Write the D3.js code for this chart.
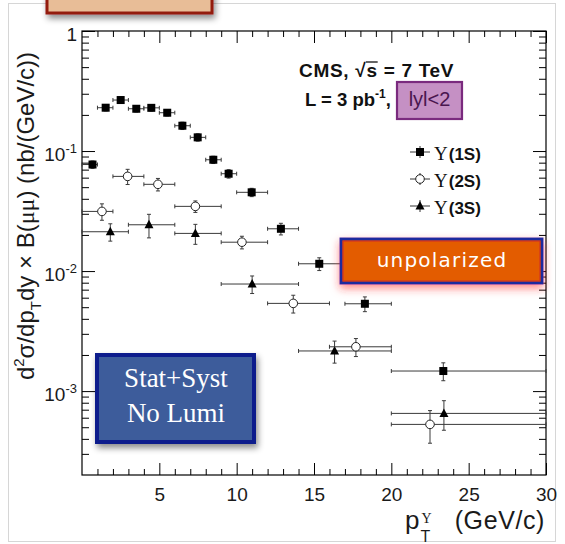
<!DOCTYPE html>
<html><head><meta charset="utf-8">
<script src="https://cdn.jsdelivr.net/npm/d3@7"></script>
<style>body{margin:0;background:#fff} svg{display:block}</style>
</head><body><svg id="c" width="565" height="544"></svg>
<script>
// ---------- data ----------
const xMajorTicks = [5, 10, 15, 20, 25, 30];
const yMajorTicks = [1, 0.1, 0.01, 0.001];
const yTickLabels = ["1", "10|-1", "10|-2", "10|-3"];

const s1Center = [0.68, 1.53, 2.5, 3.51, 4.48, 5.51, 6.49, 7.48, 8.49, 9.48, 10.97, 12.86, 15.34, 18.29, 23.36];
const s1Lo     = [0, 1, 2, 3, 4, 5, 6, 7, 8, 9, 10, 12, 14, 17, 20];
const s1Hi     = [1, 2, 3, 4, 5, 6, 7, 8, 9, 10, 12, 14, 17, 20, 30];
const s1Val    = [0.0772, 0.2296, 0.266, 0.225, 0.229, 0.2085, 0.1625, 0.130, 0.0846, 0.0647, 0.0453, 0.0225, 0.0115, 0.00534, 0.00147];
const s1Err    = [0.0054, 0.0138, 0.016, 0.0135, 0.0137, 0.0125, 0.0114, 0.0091, 0.0059, 0.0052, 0.0036, 0.0025, 0.0014, 0.00075, 0.00025];

const s2Center = [1.29, 2.95, 4.91, 7.33, 10.34, 13.66, 17.71, 22.5];
const s2Lo     = [0, 2, 4, 6, 9, 12, 16, 20];
const s2Hi     = [2, 4, 6, 9, 12, 16, 20, 30];
const s2Val    = [0.0314, 0.0615, 0.0528, 0.0346, 0.0174, 0.00538, 0.00234, 0.000528];
const s2Err    = [0.0049, 0.0089, 0.0063, 0.0038, 0.0021, 0.00091, 0.0004, 0.00016];

const s3Center = [1.83, 4.33, 7.33, 11.0, 16.33, 23.4];
const s3Lo     = [0, 3, 6, 9, 14, 20];
const s3Hi     = [3, 6, 9, 14, 20, 30];
const s3Val    = [0.02126, 0.0243, 0.0206, 0.0078, 0.00216, 0.000652];
const s3Err    = [0.0035, 0.0054, 0.0039, 0.0013, 0.00045, 0.00018];

const legendLabels = ["(1S)", "(2S)", "(3S)"];

// ---------- setup ----------
const svg = d3.select("#c");
const M = {l: 82, r: 546, t: 31, b: 475};
const x = d3.scaleLinear().domain([0, 30]).range([M.l, M.r]);
const y = d3.scaleLog().domain([2e-4, 1]).range([M.b, M.t]);
const SANS = "'Liberation Sans', Arial, Helvetica, sans-serif";
const SERIF = "'Liberation Serif', 'Times New Roman', serif";

const defs = svg.append("defs");
const f1 = defs.append("filter").attr("id", "shadowGray").attr("x", "-20%").attr("y", "-20%").attr("width", "150%").attr("height", "160%");
f1.append("feDropShadow").attr("dx", 2).attr("dy", 4).attr("stdDeviation", 3).attr("flood-color", "#000").attr("flood-opacity", 0.45);
const f2 = defs.append("filter").attr("id", "shadowRed").attr("x", "-20%").attr("y", "-40%").attr("width", "140%").attr("height", "200%");
f2.append("feDropShadow").attr("dx", 0).attr("dy", 4).attr("stdDeviation", 4).attr("flood-color", "#ff2a2a").attr("flood-opacity", 0.55);

// outer faint border
svg.append("rect").attr("x", 8.5).attr("y", 3.5).attr("width", 547).attr("height", 538)
  .attr("fill", "none").attr("stroke", "#d6d6d6").attr("stroke-width", 1);

// ---------- axes ----------
const yMinor = [];
for (let k = -4; k <= -1; k++) for (let m = 2; m <= 9; m++) { const v = m * Math.pow(10, k); if (v > 2.01e-4 && v < 1) yMinor.push(v); }
const xMinor = d3.range(1, 30).filter(d => d % 5 !== 0);

function addAxis(axis, tx, ty) {
  const g = svg.append("g").attr("transform", `translate(${tx},${ty})`).call(axis);
  g.select(".domain").remove();
  g.selectAll("line").attr("stroke", "#000").attr("stroke-width", 1);
  return g;
}
const gx = addAxis(d3.axisBottom(x).tickValues(xMajorTicks).tickSize(-12).tickPadding(13).tickFormat(d => d), 0, M.b);
gx.attr("font-family", SANS).attr("font-size", 19);
gx.selectAll("text").attr("fill", "#1a1a1a");
addAxis(d3.axisBottom(x).tickValues(xMinor).tickSize(-6).tickFormat(""), 0, M.b);
addAxis(d3.axisTop(x).tickValues(xMajorTicks).tickSize(-12).tickFormat(""), 0, M.t);
addAxis(d3.axisTop(x).tickValues(xMinor).tickSize(-6).tickFormat(""), 0, M.t);
addAxis(d3.axisLeft(y).tickValues(yMajorTicks).tickSize(-13).tickFormat(""), M.l, 0);
addAxis(d3.axisLeft(y).tickValues(yMinor).tickSize(-7).tickFormat(""), M.l, 0);
addAxis(d3.axisRight(y).tickValues(yMajorTicks).tickSize(-13).tickFormat(""), M.r, 0);
addAxis(d3.axisRight(y).tickValues(yMinor).tickSize(-7).tickFormat(""), M.r, 0);

// y tick labels
yMajorTicks.forEach((v, i) => {
  const parts = yTickLabels[i].split("|");
  const t = svg.append("text").attr("x", 77).attr("y", y(v) + 10).attr("text-anchor", "end")
    .attr("font-family", SANS).attr("font-size", 19).attr("fill", "#1a1a1a");
  t.append("tspan").text(parts[0]);
  if (parts[1]) t.append("tspan").attr("font-size", 13).attr("dy", -8).text(parts[1]);
});

// frame
svg.append("rect").attr("x", M.l).attr("y", M.t).attr("width", M.r - M.l).attr("height", M.b - M.t)
  .attr("fill", "none").attr("stroke", "#000").attr("stroke-width", 1.2);

// ---------- data points ----------
function drawSeries(cen, lo, hi, val, err, kind) {
  const g = svg.append("g");
  const ec = "#3a3a3a";
  cen.forEach((c, i) => {
    const cx = x(c), cy = y(val[i]);
    const x0 = x(lo[i]), x1 = x(hi[i]);
    const yTop = y(val[i] + err[i]), yBot = y(Math.max(val[i] - err[i], 1e-6));
    g.append("line").attr("x1", x0).attr("x2", x1).attr("y1", cy).attr("y2", cy).attr("stroke", ec).attr("stroke-width", 1);
    [x0, x1].forEach(xx => g.append("line").attr("x1", xx).attr("x2", xx).attr("y1", cy - 2).attr("y2", cy + 2).attr("stroke", ec));
    g.append("line").attr("x1", cx).attr("x2", cx).attr("y1", yTop).attr("y2", yBot).attr("stroke", ec);
    [yTop, yBot].forEach(yy => g.append("line").attr("x1", cx - 2).attr("x2", cx + 2).attr("y1", yy).attr("y2", yy).attr("stroke", ec));
    drawMarker(g, cx, cy, kind);
  });
}
function drawMarker(g, cx, cy, kind) {
  if (kind === "square") g.append("rect").attr("x", cx - 4).attr("y", cy - 4).attr("width", 8).attr("height", 8).attr("fill", "#000");
  else if (kind === "circle") g.append("circle").attr("cx", cx).attr("cy", cy).attr("r", 4.3).attr("fill", "#fff").attr("stroke", "#222").attr("stroke-width", 1);
  else g.append("path").attr("d", `M${cx},${cy - 5}L${cx + 4.5},${cy + 3.5}L${cx - 4.5},${cy + 3.5}Z`).attr("fill", "#000");
}
drawSeries(s3Center, s3Lo, s3Hi, s3Val, s3Err, "triangle");
drawSeries(s2Center, s2Lo, s2Hi, s2Val, s2Err, "circle");
drawSeries(s1Center, s1Lo, s1Hi, s1Val, s1Err, "square");

// ---------- legend ----------
const legKinds = ["square", "circle", "triangle"];
const legY = [152, 179, 206];
legKinds.forEach((k, i) => {
  const g = svg.append("g");
  const cx = 420, cy = legY[i];
  g.append("line").attr("x1", cx - 10).attr("x2", cx + 10).attr("y1", cy).attr("y2", cy).attr("stroke", "#333");
  g.append("line").attr("x1", cx).attr("x2", cx).attr("y1", cy - 6).attr("y2", cy + 6).attr("stroke", "#333");
  drawMarker(g, cx, cy, k);
  const t = svg.append("text").attr("x", 434).attr("y", cy + 8).attr("fill", "#111");
  t.append("tspan").attr("font-family", SERIF).attr("font-size", 19).text("Υ");
  t.append("tspan").attr("font-family", SANS).attr("font-weight", "bold").attr("font-size", 17).attr("dx", 1).text(legendLabels[i]);
});

// ---------- CMS text ----------
const cms = svg.append("text").attr("x", 299).attr("y", 77).attr("font-family", SANS).attr("font-weight", "bold")
  .attr("font-size", 19).attr("letter-spacing", 0.7).attr("fill", "#111").text("CMS, √s = 7 TeV");
const ext = cms.node().getExtentOfChar(6);
svg.append("line").attr("x1", ext.x - 0.5).attr("x2", ext.x + ext.width).attr("y1", 62).attr("y2", 62)
  .attr("stroke", "#111").attr("stroke-width", 1.3);
const lum = svg.append("text").attr("x", 305).attr("y", 106).attr("font-family", SANS).attr("font-weight", "bold")
  .attr("font-size", 18.5).attr("fill", "#111");
lum.append("tspan").text("L = 3 pb");
lum.append("tspan").attr("font-size", 12).attr("dy", -8).text("-1");
lum.append("tspan").attr("dy", 8).text(",");

svg.append("rect").attr("x", 397).attr("y", 82).attr("width", 65).attr("height", 37)
  .attr("fill", "#c590c4").attr("stroke", "#7a2a7e").attr("stroke-width", 2.2);
svg.append("text").attr("x", 429.5).attr("y", 106).attr("text-anchor", "middle").attr("font-family", SANS)
  .attr("font-size", 20).attr("fill", "#4a1650").text("lyl<2");

// ---------- unpolarized box ----------
svg.append("rect").attr("x", 341).attr("y", 239).attr("width", 201).attr("height", 44)
  .attr("fill", "#e35c03").attr("stroke", "#1c2c9e").attr("stroke-width", 3).attr("filter", "url(#shadowRed)");
svg.append("rect").attr("x", 343).attr("y", 241).attr("width", 197).attr("height", 40)
  .attr("fill", "none").attr("stroke", "#cf2a2a").attr("stroke-width", 1);
svg.append("text").attr("x", 442).attr("y", 267).attr("text-anchor", "middle").attr("font-family", "'DejaVu Sans', sans-serif")
  .attr("font-size", 20).attr("letter-spacing", 1.2).attr("fill", "#fff").text("unpolarized");

// ---------- Stat+Syst box ----------
svg.append("rect").attr("x", 97).attr("y", 355).attr("width", 157).attr("height", 87)
  .attr("fill", "#3d5b9b").attr("stroke", "#111f8c").attr("stroke-width", 4).attr("filter", "url(#shadowGray)");
svg.append("text").attr("x", 176).attr("y", 387).attr("text-anchor", "middle").attr("font-family", SERIF)
  .attr("font-size", 27).attr("fill", "#fff").text("Stat+Syst");
svg.append("text").attr("x", 176).attr("y", 422).attr("text-anchor", "middle").attr("font-family", SERIF)
  .attr("font-size", 27).attr("fill", "#fff").text("No Lumi");

// ---------- top-left partial box ----------
svg.append("rect").attr("x", 47).attr("y", -20).attr("width", 165).attr("height", 33)
  .attr("fill", "#e8bd97").attr("stroke", "#931d10").attr("stroke-width", 3).attr("filter", "url(#shadowGray)");

// ---------- axis titles ----------
const yl = svg.append("text").attr("transform", "translate(34,216) rotate(-90)").attr("text-anchor", "middle")
  .attr("font-family", SANS).attr("font-size", 24).attr("fill", "#1a1a1a");
yl.append("tspan").text("d");
yl.append("tspan").attr("font-size", 15).attr("dy", -10).text("2");
yl.append("tspan").attr("dy", 10).text("σ/dp");
yl.append("tspan").attr("font-size", 15).attr("dy", 7).text("T");
yl.append("tspan").attr("dy", -7).text("dy × B(");
yl.append("tspan").attr("font-family", SERIF).text("μμ");
yl.append("tspan").text(") (nb/(GeV/c))");

const pT = svg.append("text").attr("x", 405).attr("y", 529).attr("font-family", SANS).attr("font-size", 26).attr("fill", "#1a1a1a").text("p");
const pw = pT.node().getComputedTextLength();
svg.append("text").attr("x", 405 + pw + 2).attr("y", 523).attr("font-family", SERIF).attr("font-size", 14).attr("fill", "#1a1a1a").text("Υ");
svg.append("text").attr("x", 405 + pw + 1).attr("y", 542).attr("font-family", SANS).attr("font-size", 16).attr("fill", "#1a1a1a").text("T");
svg.append("text").attr("x", 545).attr("y", 529).attr("text-anchor", "end").attr("font-family", SANS).attr("font-size", 25)
  .attr("letter-spacing", 0.6).attr("fill", "#1a1a1a").text("(GeV/c)");
</script></body></html>
